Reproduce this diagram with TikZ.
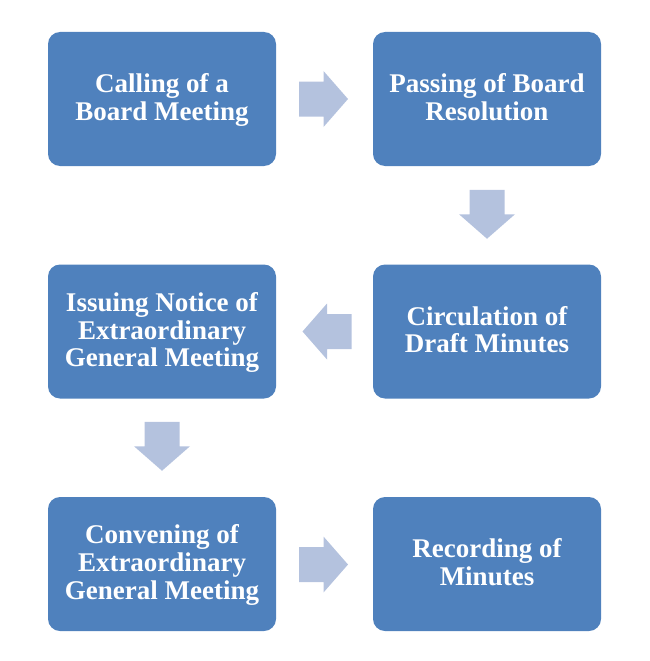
\documentclass[tikz,border=0pt]{standalone}
\usepackage{fontspec}
\usepackage{array}
\setmainfont{Liberation Serif}
\usetikzlibrary{calc}
\definecolor{boxblue}{HTML}{4F81BD}
\definecolor{arrowblue}{HTML}{B4C2DE}
\newcolumntype{L}{@{}>{\rule[-6.3pt]{0pt}{27.6pt}}c@{}}
\newcommand\boxlines[1]{{\renewcommand\arraystretch{0.5}\begin{tabular}{L}#1\end{tabular}}}
\tikzset{
  stepbox/.style={fill=boxblue, draw=none, rounded corners=12pt, minimum width=228pt, minimum height=134pt,
    text=white, font=\bfseries\fontsize{27pt}{27.6pt}\selectfont, inner sep=0pt},
  blockarrow/.pic={\fill[arrowblue] (-24.5,-17.5) -- (0,-17.5) -- (0,-28) -- (24.5,0) -- (0,28) -- (0,17.5) -- (-24.5,17.5) -- cycle;}
}
\begin{document}
\begin{tikzpicture}[x=1pt,y=-1pt]
\useasboundingbox (0,0) rectangle (650,661);
\node[stepbox] (b1) at (162,99) {\boxlines{Calling of a\\Board Meeting}};
\node[stepbox] (b2) at (487,99) {\boxlines{Passing of Board\\Resolution}};
\node[stepbox] (b3) at (487,331.5) {\boxlines{Circulation of\\Draft Minutes}};
\node[stepbox] (b4) at (162,331.5) {\boxlines{Issuing Notice of\\Extraordinary\\General Meeting}};
\node[stepbox] (b5) at (162,564) {\boxlines{Convening of\\Extraordinary\\General Meeting}};
\node[stepbox] (b6) at (487,564) {\boxlines{Recording of\\Minutes}};
\coordinate (a1) at ($(b1.east)!0.5!(b2.west)+(-1,0)$);
\coordinate (a2) at ($(b2.south)!0.5!(b3.north)+(0,-1)$);
\coordinate (a3) at ($(b3.west)!0.5!(b4.east)+(2.5,0)$);
\coordinate (a4) at ($(b4.south)!0.5!(b5.north)+(0,-1.5)$);
\coordinate (a5) at ($(b5.east)!0.5!(b6.west)+(-1,0.5)$);
\pic at (a1) {blockarrow};
\pic[rotate=-90] at (a2) {blockarrow};
\pic[rotate=180] at (a3) {blockarrow};
\pic[rotate=-90] at (a4) {blockarrow};
\pic at (a5) {blockarrow};
\end{tikzpicture}
\end{document}
